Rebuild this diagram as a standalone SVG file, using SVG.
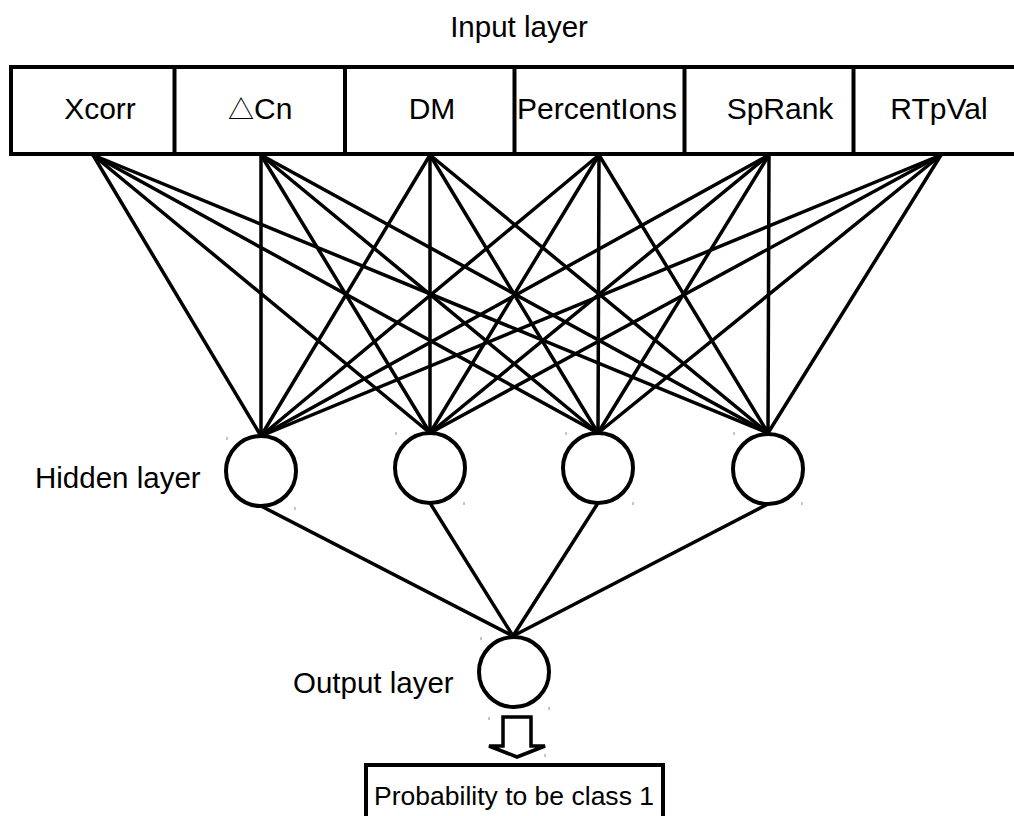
<svg xmlns="http://www.w3.org/2000/svg" width="1014" height="816" viewBox="0 0 1014 816">
  <style>
    text { font-family: "Liberation Sans", Arial, sans-serif; fill: #000; }
    .lbl { font-size: 29.5px; }
    .cell { font-size: 30px; }
    .sym { font-family: "Noto Sans CJK JP", "DejaVu Sans", sans-serif; font-size: 26px; }
    .box { fill: #fff; stroke: #000; stroke-width: 4; }
    .node { fill: #fff; stroke: #000; stroke-width: 4; }
    .edge { stroke: #000; stroke-width: 3.5; fill: none; stroke-linecap: round; }
    .sep { stroke: #000; stroke-width: 4; }
    .tick { stroke: #8a8a8a; stroke-width: 1; }
  </style>
  <rect width="1014" height="816" fill="#fff"/>

  <text class="lbl" x="519" y="37" text-anchor="middle">Input layer</text>

  <!-- connectors -->
  <g id="connectors">
    <!-- input -> hidden -->
    <g>
      <line class="edge" x1="93" y1="155" x2="261" y2="436"/>
      <line class="edge" x1="93" y1="155" x2="430" y2="433"/>
      <line class="edge" x1="93" y1="155" x2="598" y2="433"/>
      <line class="edge" x1="93" y1="155" x2="768" y2="433"/>
      <line class="edge" x1="261" y1="155" x2="261" y2="436"/>
      <line class="edge" x1="261" y1="155" x2="430" y2="433"/>
      <line class="edge" x1="261" y1="155" x2="598" y2="433"/>
      <line class="edge" x1="261" y1="155" x2="768" y2="433"/>
      <line class="edge" x1="430" y1="155" x2="261" y2="436"/>
      <line class="edge" x1="430" y1="155" x2="430" y2="433"/>
      <line class="edge" x1="430" y1="155" x2="598" y2="433"/>
      <line class="edge" x1="430" y1="155" x2="768" y2="433"/>
      <line class="edge" x1="599" y1="155" x2="261" y2="436"/>
      <line class="edge" x1="599" y1="155" x2="430" y2="433"/>
      <line class="edge" x1="599" y1="155" x2="598" y2="433"/>
      <line class="edge" x1="599" y1="155" x2="768" y2="433"/>
      <line class="edge" x1="769" y1="155" x2="261" y2="436"/>
      <line class="edge" x1="769" y1="155" x2="430" y2="433"/>
      <line class="edge" x1="769" y1="155" x2="598" y2="433"/>
      <line class="edge" x1="769" y1="155" x2="768" y2="433"/>
      <line class="edge" x1="941" y1="155" x2="261" y2="436"/>
      <line class="edge" x1="941" y1="155" x2="430" y2="433"/>
      <line class="edge" x1="941" y1="155" x2="598" y2="433"/>
      <line class="edge" x1="941" y1="155" x2="768" y2="433"/>
    </g>
    <!-- hidden -> output -->
    <g>
      <line class="edge" x1="261" y1="506" x2="513" y2="636"/>
      <line class="edge" x1="430" y1="503" x2="513" y2="636"/>
      <line class="edge" x1="598" y1="503" x2="513" y2="636"/>
      <line class="edge" x1="768" y1="504" x2="513" y2="636"/>
    </g>
  </g>

  <!-- input layer cells -->
  <g id="input-layer">
    <rect class="box" x="11" y="67" width="1012" height="87"/>
    <g id="in-xcorr">
      <text class="cell" x="100" y="119" text-anchor="middle">Xcorr</text>
    </g>
    <g id="in-dcn">
      <line class="sep" x1="174.5" y1="67" x2="174.5" y2="154"/>
      <text class="cell" x="228" y="119"><tspan class="sym">△</tspan>Cn</text>
    </g>
    <g id="in-dm">
      <line class="sep" x1="345" y1="67" x2="345" y2="154"/>
      <text class="cell" x="432" y="119" text-anchor="middle">DM</text>
    </g>
    <g id="in-percentions">
      <line class="sep" x1="514.5" y1="67" x2="514.5" y2="154"/>
      <text class="cell" x="597" y="119" text-anchor="middle">PercentIons</text>
    </g>
    <g id="in-sprank">
      <line class="sep" x1="684.5" y1="67" x2="684.5" y2="154"/>
      <text class="cell" x="780" y="119" text-anchor="middle">SpRank</text>
    </g>
    <g id="in-rtpval">
      <line class="sep" x1="853.5" y1="67" x2="853.5" y2="154"/>
      <text class="cell" x="939" y="119" text-anchor="middle">RTpVal</text>
    </g>
  </g>

  <text class="lbl" x="35" y="488">Hidden layer</text>

  <!-- hidden layer -->
  <g id="hidden-1">
    <circle class="node" cx="261" cy="471" r="35"/>
    <line class="tick" x1="227" y1="437" x2="227" y2="440"/>
    <line class="tick" x1="295" y1="507" x2="295" y2="510"/>
  </g>
  <g id="hidden-2">
    <circle class="node" cx="430" cy="468" r="35"/>
    <line class="tick" x1="396" y1="432" x2="396" y2="435"/>
    <line class="tick" x1="464" y1="502" x2="464" y2="505"/>
  </g>
  <g id="hidden-3">
    <circle class="node" cx="598" cy="468" r="35"/>
    <line class="tick" x1="566" y1="432" x2="566" y2="435"/>
    <line class="tick" x1="633" y1="502" x2="633" y2="505"/>
  </g>
  <g id="hidden-4">
    <circle class="node" cx="768" cy="469" r="35"/>
    <line class="tick" x1="734" y1="432" x2="734" y2="435"/>
    <line class="tick" x1="802" y1="502" x2="802" y2="505"/>
  </g>

  <text class="lbl" x="293" y="693">Output layer</text>

  <!-- output node -->
  <g id="output">
    <circle class="node" cx="514" cy="672" r="35"/>
    <line class="tick" x1="481" y1="637" x2="481" y2="640"/>
    <line class="tick" x1="549" y1="707" x2="549" y2="710"/>
  </g>

  <!-- block arrow to result -->
  <g id="result-arrow">
    <path d="M503,717 L531,717 L531,746 L545,746 L517,757 L489,746 L503,746 Z" fill="#fff" stroke="#000" stroke-width="3.5" stroke-linejoin="miter"/>
    <line class="tick" x1="489" y1="717" x2="489" y2="720"/>
    <line class="tick" x1="545" y1="754" x2="545" y2="757"/>
  </g>

  <!-- result box -->
  <g id="result">
    <rect class="box" x="366" y="765" width="297" height="60"/>
    <text x="374" y="805" font-size="26.5" textLength="280" lengthAdjust="spacingAndGlyphs">Probability to be class 1</text>
  </g>
</svg>
